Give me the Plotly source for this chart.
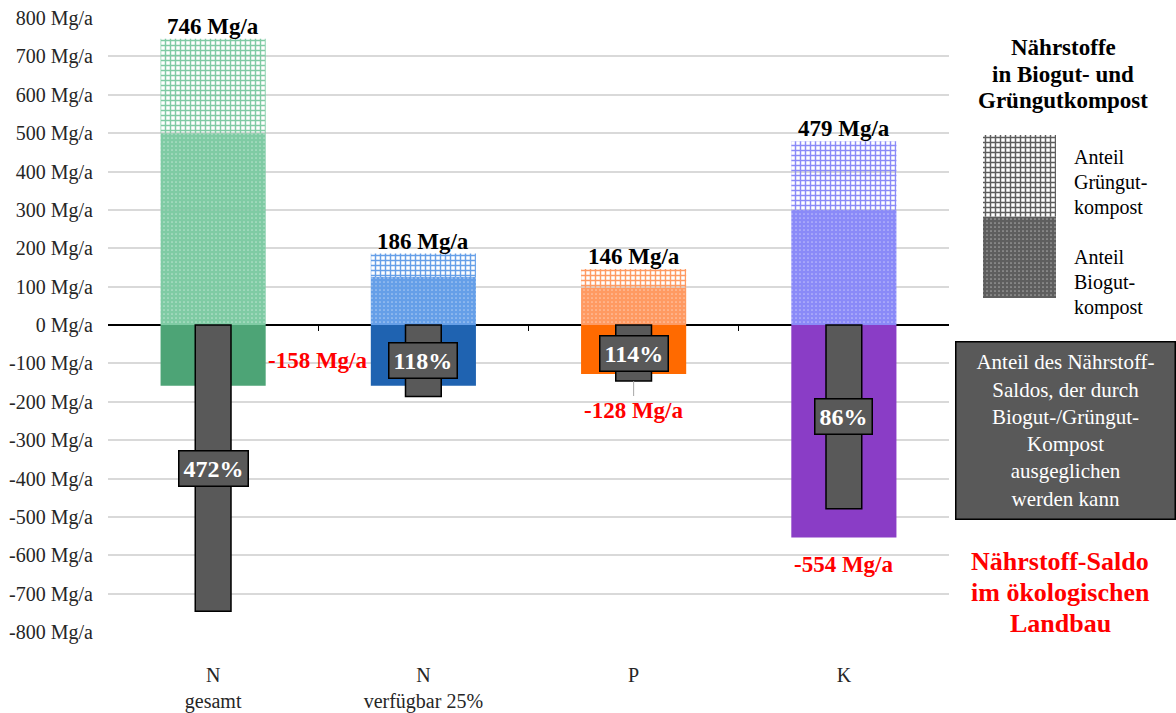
import plotly.graph_objects as go

# ---- data -------------------------------------------------------------
categories = ["N<br>gesamt", "N<br>verfügbar 25%", "P", "K"]
biogut = [500, 125, 97, 300]          # Mg/a from Biogut compost
gruengut = [246, 61, 49, 179]         # Mg/a from Grüngut compost
saldo = [-158, -158, -128, -554]      # nutrient balance, organic farming
tick_values = list(range(-800, 801, 100))
tick_labels = [f"{v} Mg/a" for v in tick_values]

kompost_total = [b + g for b, g in zip(biogut, gruengut)]
kompost_mirror = [-t for t in kompost_total]
coverage_pct = [round(t / -s * 100) for t, s in zip(kompost_total, saldo)]

# ---- styling ----------------------------------------------------------
FONT = "Liberation Serif"
solid_colors = ["#4DA476", "#1F63B1", "#FF6A00", "#8A3DC6"]
light_colors = ["#7FCBA4", "#659FE8", "#FF9A62", "#8A8AF8"]
DARK = "#595959"

W, H = 1176, 713
ML, MT, MB = 108, 18, 81
PLOT_W = W - ML
PLOT_H = H - MT - MB


def px_x(px):
    return (px - ML) / PLOT_W


def px_y(py):
    return (H - MB - py) / PLOT_H


# coloured dots that nearly touch, leaving small white specks
dot_pattern = dict(shape=".", bgcolor="white", size=4, solidity=0.85,
                   fillmode="replace")
# thin coloured grid on white
grid_pattern = dict(shape="+", bgcolor="white", size=5, solidity=0.5,
                    fillmode="replace")

fig = go.Figure()

# Biogut share (stack bottom)
fig.add_trace(go.Bar(
    x=categories, y=biogut, width=0.5,
    marker=dict(color=light_colors, line=dict(width=0),
                pattern=dict(dot_pattern, fgcolor=light_colors)),
    showlegend=False, hoverinfo="skip"))
# Grüngut share (stack top)
fig.add_trace(go.Bar(
    x=categories, y=gruengut, base=biogut, width=0.5,
    marker=dict(color=light_colors, line=dict(width=0),
                pattern=dict(grid_pattern, fgcolor=light_colors)),
    showlegend=False, hoverinfo="skip"))
# Nutrient balance
fig.add_trace(go.Bar(
    x=categories, y=saldo, width=0.5,
    marker=dict(color=solid_colors, line=dict(width=0)),
    showlegend=False, hoverinfo="skip"))
# Compost supply mirrored under the axis
fig.add_trace(go.Bar(
    x=categories, y=kompost_mirror, width=0.17,
    marker=dict(color=DARK, line=dict(color="black", width=1.5)),
    showlegend=False, hoverinfo="skip"))

# boundary tick marks along the zero line
fig.add_trace(go.Scatter(x=[0], y=[0], xaxis="x2", yaxis="y", mode="none",
                         showlegend=False, hoverinfo="skip"))

# legend swatches (grey versions of both patterns)
fig.add_trace(go.Bar(
    x=[0], y=[1], width=1, xaxis="x3", yaxis="y3",
    marker=dict(color="#5E5E5E", line=dict(width=0),
                pattern=dict(dot_pattern, fgcolor="#5E5E5E")),
    showlegend=False, hoverinfo="skip"))
fig.add_trace(go.Bar(
    x=[0], y=[1], base=[1], width=1, xaxis="x3", yaxis="y3",
    marker=dict(color="#5E5E5E", line=dict(width=0),
                pattern=dict(grid_pattern, fgcolor="#5E5E5E")),
    showlegend=False, hoverinfo="skip"))

ann = []
# totals above bars
for c, t in zip(categories, kompost_total):
    ann.append(dict(x=c, y=t, text=f"<b>{t} Mg/a</b>", showarrow=False,
                    xanchor="center", yanchor="bottom", yshift=-2,
                    font=dict(family=FONT, size=23, color="black")))
# coverage percentages
for c, m, p in zip(categories, kompost_mirror, coverage_pct):
    ann.append(dict(x=c, y=m / 2, text=f"<b>{p}%</b>", showarrow=False,
                    xanchor="center", yanchor="middle",
                    bgcolor=DARK, bordercolor="black", borderwidth=1.5,
                    borderpad=4, font=dict(family=FONT, size=24, color="white")))
# balance labels
red = "#FF0000"
ann.append(dict(x=0.25, y=saldo[0] / 2, text=f"<b>{saldo[0]} Mg/a</b>",
                showarrow=False, xanchor="left", yanchor="middle", yshift=-5,
                font=dict(family=FONT, size=23, color=red)))
ann.append(dict(x=2, y=kompost_mirror[2], text=f"<b>{saldo[2]} Mg/a</b>",
                showarrow=True, arrowhead=0, arrowwidth=1, arrowcolor="#A6A6A6",
                ax=0, ay=29, font=dict(family=FONT, size=23, color=red)))
ann.append(dict(x=3, y=saldo[3], text=f"<b>{saldo[3]} Mg/a</b>",
                showarrow=False, xanchor="center", yanchor="top", yshift=-12,
                font=dict(family=FONT, size=23, color=red)))

# right panel: legend title
for txt, py in [("Nährstoffe", 47), ("in Biogut- und", 74), ("Grüngutkompost", 101)]:
    ann.append(dict(xref="paper", yref="paper", x=px_x(1063), y=px_y(py),
                    text=f"<b>{txt}</b>", showarrow=False,
                    xanchor="center", yanchor="middle",
                    font=dict(family=FONT, size=23, color="black")))
# legend entries
for txt, py in [("Anteil", 157), ("Grüngut-", 182), ("kompost", 207),
                ("Anteil", 257), ("Biogut-", 282), ("kompost", 307)]:
    ann.append(dict(xref="paper", yref="paper", x=px_x(1072), y=px_y(py),
                    text=txt, showarrow=False, xanchor="left", yanchor="middle",
                    font=dict(family=FONT, size=20, color="black")))
# explanation box
ann.append(dict(xref="paper", yref="paper", x=px_x(1065), y=px_y(430),
                xanchor="center", yanchor="middle",
                text="Anteil des Nährstoff-<br>Saldos, der durch<br>Biogut-/Grüngut-"
                     "<br>Kompost<br>ausgeglichen<br>werden kann",
                showarrow=False, width=216, height=174, bgcolor=DARK,
                bordercolor="black", borderwidth=1.5,
                font=dict(family=FONT, size=21, color="white")))
# red caption
for txt, py in [("Nährstoff-Saldo", 561), ("im ökologischen", 592), ("Landbau", 623)]:
    ann.append(dict(xref="paper", yref="paper", x=px_x(1060), y=px_y(py),
                    text=f"<b>{txt}</b>", showarrow=False,
                    xanchor="center", yanchor="middle",
                    font=dict(family=FONT, size=26, color=red)))

x_dom = [0, px_x(949)]
fig.update_layout(
    width=W, height=H,
    margin=dict(l=ML, r=0, t=MT, b=MB),
    paper_bgcolor="white", plot_bgcolor="white",
    barmode="overlay",
    font=dict(family=FONT, size=20, color="#262626"),
    xaxis=dict(domain=x_dom, type="category", range=[-0.5, 3.5],
               showgrid=False, zeroline=False, showline=False, ticks="",
               ticklabelstandoff=29,
               tickfont=dict(family=FONT, size=20, color="#262626")),
    xaxis2=dict(domain=x_dom, overlaying="x", anchor="free", position=0.5,
                range=[-0.5, 3.5], tickvals=[0.5, 1.5, 2.5], ticks="outside",
                ticklen=5, tickwidth=1, tickcolor="black", showticklabels=False,
                showgrid=False, zeroline=False, showline=False),
    yaxis=dict(range=[-800, 800], tickvals=tick_values, ticktext=tick_labels,
               showgrid=True, gridcolor="#D9D9D9", gridwidth=1.5,
               zeroline=True, zerolinecolor="black", zerolinewidth=1.5,
               showline=False, ticks="", ticklabelstandoff=14,
               tickfont=dict(family=FONT, size=20, color="#262626")),
    xaxis3=dict(domain=[px_x(983), px_x(1056)], anchor="y3", range=[-0.5, 0.5],
                visible=False),
    yaxis3=dict(domain=[px_y(298), px_y(135)], anchor="x3", range=[0, 2],
                visible=False),
    annotations=ann,
)

fig.write_html("out.html")
